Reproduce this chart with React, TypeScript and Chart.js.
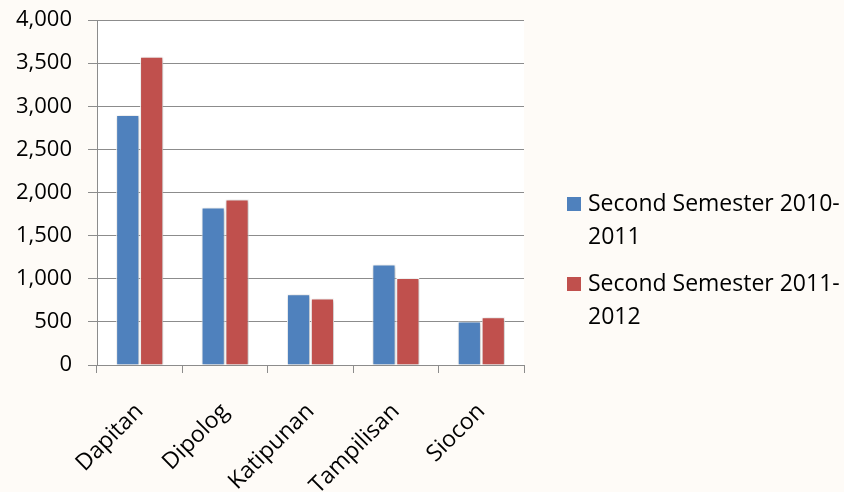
import React, { useEffect, useRef } from "react";
import { Chart, registerables } from "chart.js";

Chart.register(...registerables);

const categories = ["Dapitan", "Dipolog", "Katipunan", "Tampilisan", "Siocon"];
const seriesLabels = ["Second Semester 2010-2011", "Second Semester 2011-2012"];
const series2010 = [2900, 1825, 820, 1165, 505];
const series2011 = [3575, 1920, 770, 1010, 555];
const seriesColors = ["#4F81BD", "#C0504D"];
const yTicks = [0, 500, 1000, 1500, 2000, 2500, 3000, 3500, 4000];

const FONT = "'Open Sans', 'DejaVu Sans', sans-serif";

const plotBg = {
  id: "plotBg",
  beforeDraw(chart: any) {
    const { ctx, chartArea } = chart;
    ctx.save();
    ctx.fillStyle = "#ffffff";
    ctx.fillRect(chartArea.left, chartArea.top, chartArea.right - chartArea.left, chartArea.bottom - chartArea.top);
    ctx.restore();
  },
};

const barShadow = {
  id: "barShadow",
  beforeDatasetsDraw(chart: any) {
    const ctx = chart.ctx;
    ctx.save();
    ctx.shadowColor = "rgba(0,0,0,0.28)";
    ctx.shadowBlur = 4;
    ctx.shadowOffsetX = 1;
    ctx.shadowOffsetY = 1;
  },
  afterDatasetsDraw(chart: any) {
    chart.ctx.restore();
  },
};

const wrapLegend = {
  id: "wrapLegend",
  afterDraw(chart: any) {
    const { ctx, chartArea } = chart;
    const x0 = chartArea.right + 43;
    let y0 = 197;
    ctx.save();
    ctx.font = `23px ${FONT}`;
    ctx.textBaseline = "middle";
    ctx.textAlign = "left";
    chart.data.datasets.forEach((ds: any) => {
      const lines = String(ds.label).replace(/(\d{4}-)/, "$1\n").split("\n");
      ctx.fillStyle = ds.backgroundColor;
      ctx.fillRect(x0, y0, 14, 14);
      ctx.fillStyle = "#000000";
      lines.forEach((ln: string, i: number) => {
        ctx.fillText(ln, x0 + 21, y0 + 7 + i * 33);
      });
      y0 += 80;
    });
    ctx.restore();
  },
};

export default function App() {
  const ref = useRef<HTMLCanvasElement | null>(null);

  useEffect(() => {
    document.body.style.margin = "0";
    const canvas = ref.current;
    if (!canvas) return;
    const chart = new Chart(canvas, {
      type: "bar",
      data: {
        labels: categories,
        datasets: [
          {
            label: seriesLabels[0],
            data: series2010,
            backgroundColor: seriesColors[0],
            borderColor: "#ffffff",
            borderWidth: 1,
            categoryPercentage: 0.56,
            barPercentage: 0.97,
          },
          {
            label: seriesLabels[1],
            data: series2011,
            backgroundColor: seriesColors[1],
            borderColor: "#ffffff",
            borderWidth: 1,
            categoryPercentage: 0.56,
            barPercentage: 0.97,
          },
        ],
      },
      options: {
        responsive: false,
        animation: false,
        devicePixelRatio: 1,
        layout: { padding: { top: 20, right: 320, left: 0, bottom: 0 } },
        plugins: {
          legend: { display: false },
          tooltip: { enabled: false },
        },
        scales: {
          x: {
            afterFit(scale: any) {
              scale.height = 127;
              scale.paddingLeft = 0;
              scale.paddingRight = 0;
            },
            grid: {
              offset: true,
              drawOnChartArea: false,
              drawTicks: true,
              tickLength: 8,
              color: "#8c8c8c",
            },
            border: { color: "#8c8c8c", width: 1 },
            ticks: {
              color: "#000000",
              font: { family: FONT, size: 23 },
              minRotation: 45,
              maxRotation: 45,
              padding: 25,
              autoSkip: false,
            },
          },
          y: {
            min: 0,
            max: 4000,
            afterFit(scale: any) {
              scale.width = 97;
              scale.paddingTop = 0;
              scale.paddingBottom = 0;
            },
            afterBuildTicks(axis: any) {
              axis.ticks = yTicks.map((v) => ({ value: v }));
            },
            grid: {
              color: "#8c8c8c",
              tickLength: 9,
              drawTicks: true,
            },
            border: { color: "#8c8c8c", width: 1 },
            ticks: {
              color: "#000000",
              font: { family: FONT, size: 22 },
              padding: 16,
              callback: (v: any) => Number(v).toLocaleString("en-US"),
            },
          },
        },
      },
      plugins: [plotBg, barShadow, wrapLegend],
    });
    return () => chart.destroy();
  }, []);

  return (
    <div style={{ width: 844, height: 492, background: "#fefbf7" }}>
      <canvas ref={ref} width={844} height={492} style={{ display: "block" }} />
    </div>
  );
}
